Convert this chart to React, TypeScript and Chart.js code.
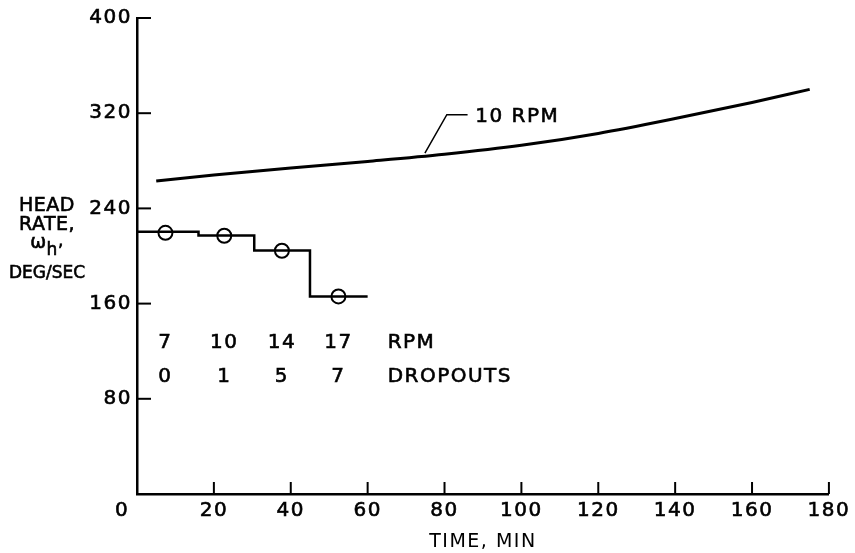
import React, { useEffect, useRef } from "react";
import { Chart, registerables } from "chart.js";

Chart.register(...registerables);

// ---- data ----
const xTicks = [0, 20, 40, 60, 80, 100, 120, 140, 160, 180];
const yTicks = [80, 160, 240, 320, 400];

// 10 RPM curve
const curveTime = [5, 20, 40, 60, 80, 100, 120, 140, 160, 175];
const curveRate = [263, 268, 274, 279.5, 285.5, 293, 303, 315.5, 329, 340];

// stepped line (head rate at varying RPM)
const stepTime = [0, 16, 30.5, 45, 60];
const stepRate = [220.3, 217.2, 204.6, 165.9, 165.9];

// circle markers
const circleTime = [7.4, 22.7, 37.7, 52.4];
const circleRate = [219.5, 217, 204.4, 166];

// annotation rows
const rpmLabels = ["7", "10", "14", "17"];
const dropoutLabels = ["0", "1", "5", "7"];
const rpmRowValue = 127;
const dropoutRowValue = 98.4;
const rowTitleTime = 65.2;

// "10 RPM" label and leader
const curveLabel = "10 RPM";
const curveLabelPos = { x: 88, y: 316.6 };
const leaderTime = [86, 80.6, 74.9];
const leaderRate = [318.8, 318.8, 286.5];

const FONT = "'DejaVu Sans', 'Liberation Sans', sans-serif";

function txt(ctx: any, s: string, x: number, y: number) {
  ctx.fillText(s, x, y);
  ctx.strokeText(s, x, y);
}

const spacingPlugin = {
  id: "spacing",
  beforeDraw(chart: any) {
    chart.ctx.letterSpacing = "1.5px";
  },
};

const overlayPlugin = {
  id: "overlay",
  afterDraw(chart: any) {
    const ctx = chart.ctx;
    const xs = chart.scales.x;
    const ys = chart.scales.y;
    const area = chart.chartArea;
    ctx.save();
    ctx.letterSpacing = "1.5px";
    ctx.strokeStyle = "#000";
    ctx.fillStyle = "#000";
    ctx.lineWidth = 2;
    // inward tick marks
    yTicks.forEach((v) => {
      const py = ys.getPixelForValue(v);
      ctx.beginPath();
      ctx.moveTo(area.left, py);
      ctx.lineTo(area.left + 14, py);
      ctx.stroke();
    });
    xTicks.forEach((v) => {
      if (v === 0) return;
      const px = xs.getPixelForValue(v);
      ctx.beginPath();
      ctx.moveTo(px, area.bottom);
      ctx.lineTo(px, area.bottom - 12);
      ctx.stroke();
    });
    ctx.lineWidth = 0.6;
    // "0" x label (offset left in reference)
    ctx.font = `20px ${FONT}`;
    ctx.textAlign = "center";
    ctx.textBaseline = "middle";
    txt(ctx, "0", xs.getPixelForValue(0) - 15, area.bottom + 17);

    // RPM / DROPOUTS rows
    const yr = ys.getPixelForValue(rpmRowValue);
    const yd = ys.getPixelForValue(dropoutRowValue);
    rpmLabels.forEach((t, i) => {
      txt(ctx, t, xs.getPixelForValue(circleTime[i]), yr);
    });
    dropoutLabels.forEach((t, i) => {
      txt(ctx, t, xs.getPixelForValue(circleTime[i]), yd);
    });
    ctx.textAlign = "left";
    txt(ctx, "RPM", xs.getPixelForValue(rowTitleTime), yr);
    txt(ctx, "DROPOUTS", xs.getPixelForValue(rowTitleTime), yd);

    // curve label
    txt(ctx, curveLabel, xs.getPixelForValue(curveLabelPos.x), ys.getPixelForValue(curveLabelPos.y));

    // y-axis title
    const cx = 47;
    ctx.letterSpacing = "0.5px";
    ctx.textAlign = "center";
    ctx.font = `19px ${FONT}`;
    txt(ctx, "HEAD", cx, 206);
    txt(ctx, "RATE,", cx, 225);
    ctx.font = `19px ${FONT}`;
    const w1 = ctx.measureText("ω").width;
    ctx.font = `17px ${FONT}`;
    const w2 = ctx.measureText("h").width;
    const w3 = ctx.measureText(",").width;
    const total = w1 + w2 + w3;
    let sx = cx - total / 2;
    ctx.textAlign = "left";
    ctx.font = `19px ${FONT}`;
    txt(ctx, "ω", sx, 243);
    sx += w1;
    ctx.font = `17px ${FONT}`;
    txt(ctx, "h", sx, 251);
    sx += w2;
    txt(ctx, ",", sx, 242);
    ctx.textAlign = "center";
    ctx.letterSpacing = "0px";
    ctx.font = `17px ${FONT}`;
    txt(ctx, "DEG/SEC", cx, 274);
    ctx.restore();
  },
};

export default function App() {
  const ref = useRef<HTMLCanvasElement | null>(null);
  useEffect(() => {
    if (!ref.current) return;
    const chart = new Chart(ref.current, {
      type: "line",
      data: {
        datasets: [
          {
            label: "10 RPM",
            data: curveTime.map((t, i) => ({ x: t, y: curveRate[i] })),
            borderColor: "#000",
            borderWidth: 3,
            pointRadius: 0,
            cubicInterpolationMode: "monotone",
            fill: false,
          },
          {
            label: "step",
            data: stepTime.map((t, i) => ({ x: t, y: stepRate[i] })),
            borderColor: "#000",
            borderWidth: 2.5,
            pointRadius: 0,
            stepped: "before",
            fill: false,
          },
          {
            label: "circles",
            data: circleTime.map((t, i) => ({ x: t, y: circleRate[i] })),
            showLine: false,
            pointRadius: 7,
            pointBackgroundColor: "#fff",
            pointBorderColor: "#000",
            pointBorderWidth: 2,
          },
          {
            label: "leader",
            data: leaderTime.map((t, i) => ({ x: t, y: leaderRate[i] })),
            borderColor: "#000",
            borderWidth: 1.5,
            pointRadius: 0,
            tension: 0,
            fill: false,
          },
        ],
      },
      options: {
        responsive: false,
        animation: false,
        layout: { padding: { top: 18, right: 23, left: 0, bottom: 0 } },
        plugins: {
          legend: { display: false },
          tooltip: { enabled: false },
          title: { display: false },
        },
        scales: {
          x: {
            type: "linear",
            min: 0,
            max: 180,
            grid: { display: false, drawTicks: false },
            border: { display: true, color: "#000", width: 2.5 },
            ticks: {
              stepSize: 20,
              color: "#000",
              padding: 7,
              font: { family: FONT, size: 20, lineHeight: 1 },
              textStrokeColor: "#000",
              textStrokeWidth: 0.6,
              maxRotation: 0,
              callback: (v: any) => (v === 0 ? "" : String(v)),
            },
            title: {
              display: true,
              text: "TIME, MIN",
              color: "#000",
              font: { family: FONT, size: 19 },
              padding: { top: 0, bottom: 0 },
            },
            afterFit: (s: any) => {
              s.height = 59;
            },
          },
          y: {
            type: "linear",
            min: 0,
            max: 400,
            grid: { display: false, drawTicks: false },
            border: { display: true, color: "#000", width: 2.5 },
            ticks: {
              stepSize: 80,
              color: "#000",
              padding: 5,
              font: { family: FONT, size: 20 },
              textStrokeColor: "#000",
              textStrokeWidth: 0.6,
              callback: (v: any) => (v === 0 ? "" : String(v)),
            },
            afterFit: (s: any) => {
              s.width = 137;
            },
          },
        },
      },
      plugins: [spacingPlugin, overlayPlugin],
    });
    return () => chart.destroy();
  }, []);
  return (
    <div style={{ position: "fixed", left: 0, top: 0, width: 855, height: 553, background: "#fff" }}>
      <canvas ref={ref} width={855} height={553} style={{ display: "block" }} />
    </div>
  );
}
